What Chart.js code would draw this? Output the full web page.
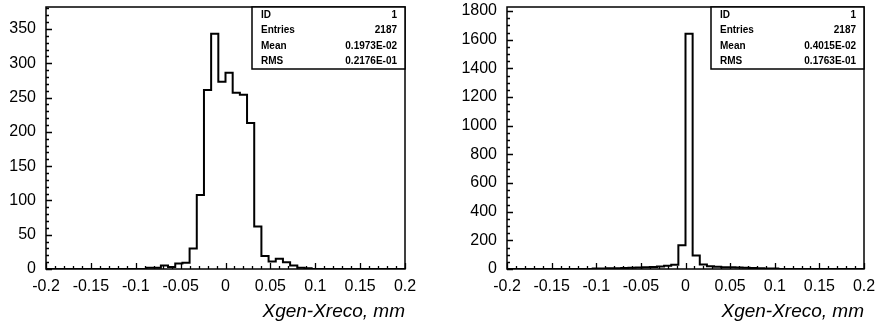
<!DOCTYPE html>
<html>
<head>
<meta charset="utf-8">
<script src="https://cdn.jsdelivr.net/npm/chart.js@4/dist/chart.umd.min.js"></script>
<style>
  html, body { margin: 0; padding: 0; background: #fff; }
  .panel { position: absolute; top: 0; width: 438px; height: 323px; }
</style>
</head>
<body>
<div class="panel" style="left:0"><canvas id="leftChart"></canvas></div>
<div class="panel" style="left:438px"><canvas id="rightChart"></canvas></div>
<script>
// histogram binning: 50 bins of 0.008 from -0.2 to 0.2
const xMin = -0.2;
const xMax = 0.2;
const binWidth = 0.008;
const xTickLabels = ['-0.2', '-0.15', '-0.1', '-0.05', '0', '0.05', '0.1', '0.15', '0.2'];
const axisTitle = 'Xgen-Xreco, mm';

// bin contents
const leftCounts = [
  0, 0, 0, 0, 0, 0, 0, 0, 0, 0,
  0, 0, 0, 0, 2, 2, 5, 3, 8, 9,
  30, 108, 261, 343, 273, 286, 257, 254, 213, 62,
  19, 11, 15, 10, 5, 2, 1, 0, 0, 0,
  0, 0, 0, 0, 0, 0, 0, 0, 0, 0
];
const rightCounts = [
  0, 0, 0, 0, 0, 0, 0, 0, 0, 0,
  0, 0, 3, 4, 5, 6, 7, 8, 10, 12,
  14, 18, 22, 30, 165, 1642, 95, 32, 20, 16,
  13, 12, 10, 9, 7, 5, 4, 3, 0, 0,
  0, 0, 0, 0, 0, 0, 0, 0, 0, 0
];

const leftYTicks = [0, 50, 100, 150, 200, 250, 300, 350];
const rightYTicks = [0, 200, 400, 600, 800, 1000, 1200, 1400, 1600, 1800];

const statLabels = ['ID', 'Entries', 'Mean', 'RMS'];
const leftStats = ['1', '2187', '0.1973E-02', '0.2176E-01'];
const rightStats = ['1', '2187', '0.4015E-02', '0.1763E-01'];

const FONT = "'Liberation Sans', Arial, Helvetica, sans-serif";

// frame, inward tick marks and the stats box
const paperPlugin = {
  id: 'paper',
  afterDatasetsDraw(chart, args, opts) {
    const ctx = chart.ctx;
    const a = chart.chartArea;
    const xs = chart.scales.x;
    const ys = chart.scales.y;
    ctx.save();
    ctx.strokeStyle = '#000';
    ctx.lineWidth = 1.3;

    // x ticks every 0.01, long every 0.05
    ctx.beginPath();
    for (let k = 0; k <= 40; k++) {
      const px = Math.round(xs.getPixelForValue(xMin + k * 0.01)) + 0.5;
      const len = k % 5 === 0 ? 6 : 3;
      ctx.moveTo(px, a.bottom);
      ctx.lineTo(px, a.bottom - len);
    }
    // y ticks
    const nMinor = Math.floor(ys.max / opts.yMinor);
    for (let k = 0; k <= nMinor; k++) {
      const py = Math.round(ys.getPixelForValue(k * opts.yMinor)) + 0.5;
      const len = (k * opts.yMinor) % opts.yMajor === 0 ? 6 : 3;
      ctx.moveTo(a.left, py);
      ctx.lineTo(a.left + len, py);
    }
    ctx.stroke();

    // frame
    ctx.lineWidth = 1.5;
    ctx.strokeRect(a.left, a.top, a.right - a.left, a.bottom - a.top);

    // stats box
    const bw = 153, bh = 62;
    const bx = a.right - bw, by = a.top;
    ctx.fillStyle = '#fff';
    ctx.fillRect(bx, by, bw, bh);
    ctx.strokeRect(bx, by, bw, bh);
    ctx.fillStyle = '#000';
    ctx.font = 'bold 10px ' + FONT;
    ctx.textBaseline = 'middle';
    const rowH = bh / statLabels.length;
    statLabels.forEach((lab, i) => {
      const cy = by + rowH * (i + 0.5);
      ctx.textAlign = 'left';
      ctx.fillText(lab, bx + 9, cy);
      ctx.textAlign = 'right';
      ctx.fillText(opts.values[i], a.right - 8, cy);
    });
    ctx.restore();
  }
};

function makeHist(canvasId, counts, yMax, yTicks, yMajor, yMinor, stats, yWidth, padRight) {
  const points = counts.map((c, i) => ({ x: xMin + i * binWidth, y: c }));
  points.push({ x: xMax, y: 0 });

  return new Chart(document.getElementById(canvasId), {
    type: 'line',
    data: {
      datasets: [{
        data: points,
        stepped: true,
        borderColor: '#000',
        borderWidth: 2,
        pointRadius: 0,
        fill: false
      }]
    },
    plugins: [paperPlugin],
    options: {
      responsive: true,
      maintainAspectRatio: false,
      animation: false,
      layout: { padding: { left: 0, top: 7, right: padRight, bottom: 0 } },
      plugins: {
        legend: { display: false },
        tooltip: { enabled: false },
        paper: { values: stats, yMajor: yMajor, yMinor: yMinor }
      },
      scales: {
        x: {
          type: 'linear',
          min: xMin,
          max: xMax,
          grid: { display: false, drawTicks: false },
          border: { display: false },
          afterBuildTicks: s => { s.ticks = xTickLabels.map(t => ({ value: parseFloat(t) })); },
          afterFit: s => { s.height = 54; s.paddingLeft = 0; s.paddingRight = 0; },
          ticks: {
            padding: 8,
            maxRotation: 0,
            autoSkip: false,
            color: '#000',
            font: { family: FONT, size: 16 },
            callback: (v, i) => xTickLabels[i]
          },
          title: {
            display: true,
            text: axisTitle,
            align: 'end',
            color: '#000',
            padding: 0,
            font: { family: FONT, size: 19, style: 'italic' }
          }
        },
        y: {
          min: 0,
          max: yMax,
          grid: { display: false, drawTicks: false },
          border: { display: false },
          afterBuildTicks: s => { s.ticks = yTicks.map(v => ({ value: v })); },
          afterFit: s => { s.width = yWidth; s.paddingTop = 0; s.paddingBottom = 0; },
          ticks: {
            padding: 10,
            color: '#000',
            font: { family: FONT, size: 16 },
            callback: v => String(v)
          }
        }
      }
    }
  });
}

makeHist('leftChart', leftCounts, 382, leftYTicks, 50, 10, leftStats, 46, 33);
makeHist('rightChart', rightCounts, 1828, rightYTicks, 200, 50, rightStats, 69, 12);
</script>
</body>
</html>
